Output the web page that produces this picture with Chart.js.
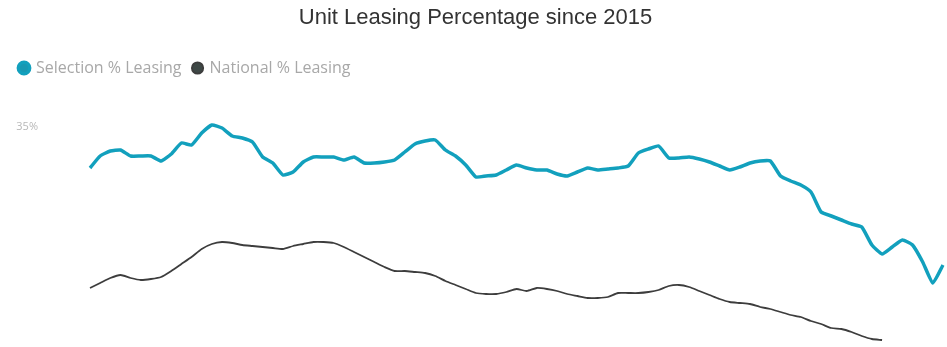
<!DOCTYPE html>
<html>
<head>
<meta charset="utf-8">
<title>Unit Leasing Percentage since 2015</title>
<script src="https://cdn.jsdelivr.net/npm/chart.js@4.4.1/dist/chart.umd.min.js"></script>
<style>
  html, body { margin: 0; padding: 0; background: #fff; }
  #wrap { width: 947px; height: 347px; }
</style>
</head>
<body>
<div id="wrap"><canvas id="leasingChart"></canvas></div>
<script>
// monthly, Jan 2015 .. Jan 2022
var months = [];
for (var y = 2015; y <= 2022; y++) {
  for (var m = 1; m <= 12; m++) {
    if (y === 2022 && m > 1) break;
    months.push(y + '-' + (m < 10 ? '0' + m : m));
  }
}

var selectionLeasing = [
  32.95, 33.55, 33.80, 33.85, 33.55, 33.55, 33.55, 33.30, 33.65, 34.20,
  34.10, 34.70, 35.10, 34.95, 34.55, 34.45, 34.25, 33.50, 33.20, 32.60,
  32.75, 33.25, 33.50, 33.50, 33.50, 33.35, 33.50, 33.20, 33.20, 33.25,
  33.35, 33.75, 34.15, 34.30, 34.35, 33.85, 33.55, 33.10, 32.50, 32.55,
  32.60, 32.85, 33.10, 32.95, 32.85, 32.85, 32.65, 32.55, 32.75, 32.95,
  32.85, 32.90, 32.95, 33.05, 33.70, 33.90, 34.05, 33.45, 33.45, 33.50,
  33.40, 33.25, 33.05, 32.85, 33.00, 33.20, 33.30, 33.30, 32.55, 32.30,
  32.10, 31.75, 30.75, 30.55, 30.35, 30.15, 30.00, 29.10, 28.65, 29.00,
  29.35, 29.10, 28.25, 27.20, 28.10
];

var nationalLeasing = [
  26.95, 27.20, 27.45, 27.60, 27.45, 27.35, 27.40, 27.50, 27.80, 28.15,
  28.50, 28.90, 29.15, 29.25, 29.20, 29.10, 29.05, 29.00, 28.95, 28.90,
  29.05, 29.15, 29.25, 29.25, 29.20, 29.00, 28.75, 28.50, 28.25, 28.00,
  27.80, 27.80, 27.75, 27.70, 27.55, 27.30, 27.10, 26.90, 26.70, 26.65,
  26.65, 26.75, 26.90, 26.80, 26.95, 26.90, 26.80, 26.65, 26.55, 26.45,
  26.45, 26.50, 26.70, 26.70, 26.70, 26.75, 26.85, 27.05, 27.10, 27.00,
  26.80, 26.60, 26.40, 26.25, 26.20, 26.15, 26.00, 25.90, 25.75, 25.60,
  25.50, 25.30, 25.15, 24.95, 24.90, 24.75, 24.55, 24.40, 24.35, null,
  null, null, null, null, null
];

var yTickValues = [35];

var ctx = document.getElementById('leasingChart').getContext('2d');
var leasingChart = new Chart(ctx, {
  type: 'line',
  data: {
    labels: months,
    datasets: [{
        label: 'Selection % Leasing',
        data: selectionLeasing,
        borderColor: '#12a0bd',
        backgroundColor: '#1898b2',
        borderWidth: 3.5,
        pointRadius: 0,
        tension: 0.15,
        fill: false
      },
      {
        label: 'National % Leasing',
        data: nationalLeasing,
        borderColor: '#3d3d3d',
        backgroundColor: '#3e4846',
        borderWidth: 1.8,
        pointRadius: 0,
        tension: 0.2,
        fill: false
      }
    ]
  },
  options: {
    responsive: true,
    maintainAspectRatio: false,
    animation: false,
    layout: { padding: { top: 5, left: 8, right: 4, bottom: 0 } },
    plugins: {
      title: {
        display: true,
        text: 'Unit Leasing Percentage since 2015',
        color: '#333',
        font: { family: '"Liberation Sans", Arial, sans-serif', size: 22, weight: 'normal' },
        padding: { top: 0, bottom: 16.6 }
      },
      legend: {
        position: 'top',
        align: 'start',
        labels: {
          usePointStyle: true,
          pointStyle: 'circle',
          boxWidth: 8,
          boxHeight: 8,
          padding: 12,
          color: '#a8a8a8',
          font: { family: '"Open Sans", sans-serif', size: 16 }
        }
      },
      tooltip: { enabled: false }
    },
    scales: {
      x: { display: false },
      y: {
        min: 24,
        max: 37.05,
        grid: { display: false, drawTicks: false },
        border: { display: false },
        ticks: {
          crossAlign: 'near',
          padding: 52,
          color: '#b8b8b8',
          font: { family: '"Open Sans", sans-serif', size: 11 },
          callback: function(v) { return v + '%'; }
        },
        afterBuildTicks: function(scale) {
          scale.ticks = yTickValues.map(function(v) { return { value: v }; });
        },
        afterFit: function(scale) {
          scale.width = 82;
          scale.paddingTop = 0;
          scale.paddingBottom = 0;
        }
      }
    }
  }
});
</script>
</body>
</html>
